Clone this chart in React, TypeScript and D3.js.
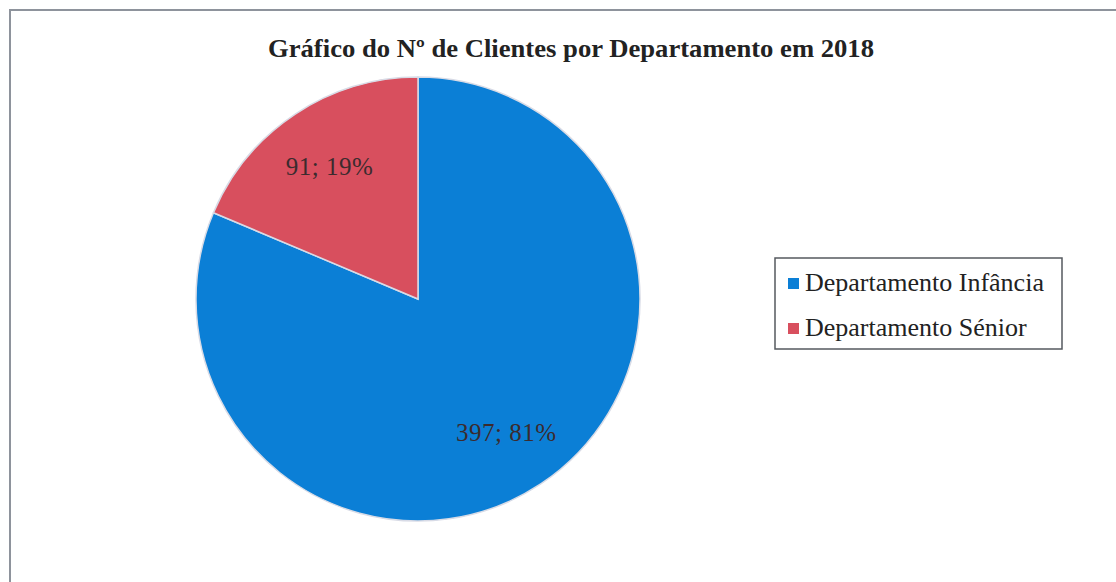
import React, { useEffect, useRef } from "react";
import * as d3 from "d3";

const TITLE = "Gráfico do Nº de Clientes por Departamento em 2018";
const CATEGORIES = ["Departamento Infância", "Departamento Sénior"];
const VALUES = [397, 91];
const PERCENTS = ["81%", "19%"];
const COLORS = ["#0b7fd6", "#d84f5e"];

const App = () => {
    const ref = useRef<HTMLDivElement>(null);

    useEffect(() => {
        const width = 1116;
        const height = 582;
        const cx = 418;
        const cy = 299;
        const radius = 222;

        const svg = d3
            .select(ref.current)
            .html("")
            .append("svg")
            .attr("width", width)
            .attr("height", height)
            .style("position", "absolute")
            .style("left", "0px")
            .style("top", "0px")
            .style("background", "#ffffff");

        // chart frame (runs off the right and bottom edges)
        svg.append("rect")
            .attr("x", 10)
            .attr("y", 10)
            .attr("width", width + 20)
            .attr("height", height + 20)
            .attr("fill", "none")
            .attr("stroke", "#8e939c")
            .attr("stroke-width", 2);

        svg.append("text")
            .attr("x", 571)
            .attr("y", 57)
            .attr("text-anchor", "middle")
            .attr("font-family", "'Liberation Serif', serif")
            .attr("font-weight", "bold")
            .attr("font-size", "25px")
            .attr("textLength", 606)
            .attr("lengthAdjust", "spacingAndGlyphs")
            .attr("fill", "#222")
            .text(TITLE);

        const slices = CATEGORIES.map((c, i) => ({ c, v: VALUES[i], p: PERCENTS[i], color: COLORS[i] }));
        const pie = d3.pie<any>().sort(null).value((d) => d.v);
        const arcs = pie(slices);
        const arc = d3.arc<any>().innerRadius(0).outerRadius(radius);
        const labelArc = d3.arc<any>().innerRadius(radius * 0.72).outerRadius(radius * 0.72);

        const g = svg.append("g").attr("transform", `translate(${cx},${cy})`);

        g.selectAll("path")
            .data(arcs)
            .join("path")
            .attr("d", arc)
            .attr("fill", (d) => d.data.color)
            .attr("stroke", "#d8dbe6")
            .attr("stroke-width", 1.5);

        g.selectAll("text")
            .data(arcs)
            .join("text")
            .attr("transform", (d) => {
                const [x, y] = labelArc.centroid(d);
                return `translate(${x},${y})`;
            })
            .attr("text-anchor", "middle")
            .attr("dy", "0.35em")
            .attr("font-family", "'Liberation Serif', serif")
            .attr("font-size", "25px")
            .attr("letter-spacing", "0.5px")
            .attr("fill", "#3b2b2e")
            .text((d) => `${d.data.v}; ${d.data.p}`);

        // legend
        const legend = svg.append("g").attr("transform", "translate(775,258)");
        legend.append("rect")
            .attr("width", 287)
            .attr("height", 91)
            .attr("fill", "#fff")
            .attr("stroke", "#55595f")
            .attr("stroke-width", 1.5);

        slices.forEach((s, i) => {
            legend.append("rect")
                .attr("x", 13)
                .attr("y", 20 + i * 45)
                .attr("width", 11)
                .attr("height", 11)
                .attr("fill", s.color);
            legend.append("text")
                .attr("x", 30)
                .attr("y", 33 + i * 45)
                .attr("font-family", "'Liberation Serif', serif")
                .attr("font-size", "26px")
                .attr("fill", "#222")
                .text(s.c);
        });
    }, []);

    return <div ref={ref} />;
};

export default App;
